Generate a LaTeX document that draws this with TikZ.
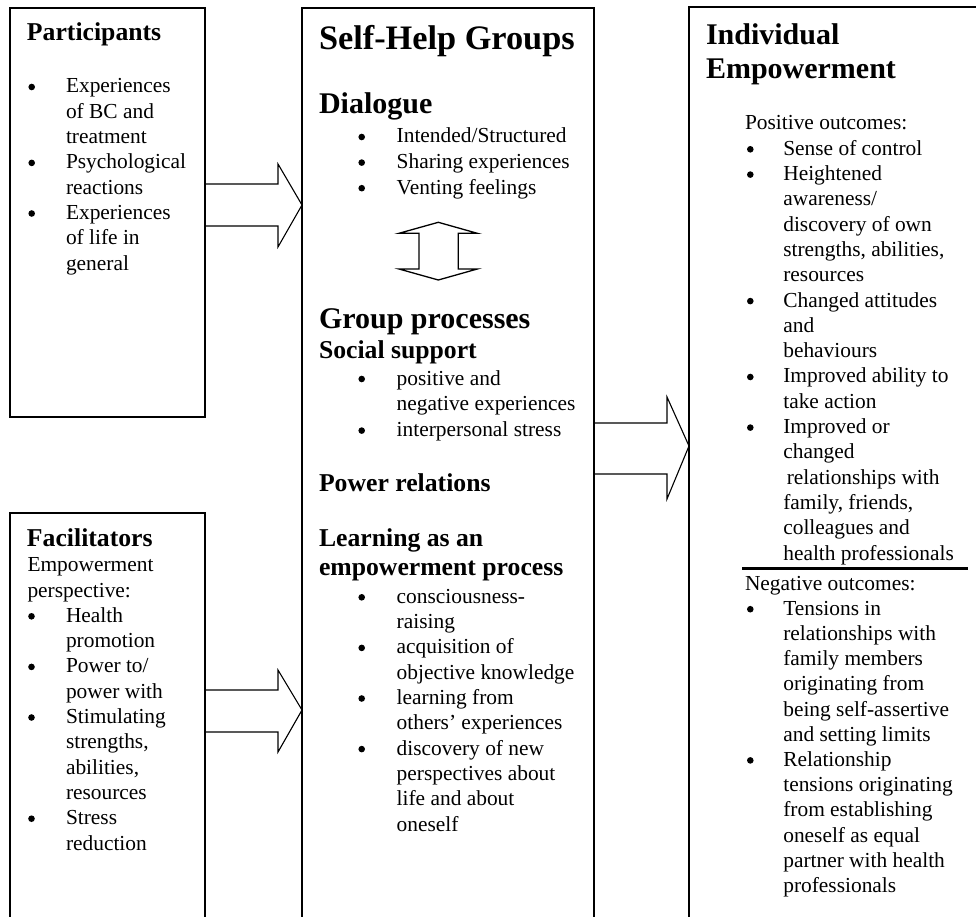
\documentclass[tikz,border=0pt]{standalone}
\usepackage{fontspec}
\setmainfont{Liberation Serif}
\newlength\bind
\newcommand\nl{\hfil\break}
\newcommand\bdot{\tikz[baseline=0pt]{\useasboundingbox (0pt,0pt) rectangle (8pt,1pt);\fill (4pt,6pt) circle[radius=3.3pt];}}
\newcommand\bi[1]{\hangindent=\bind\hangafter=1\noindent\makebox[\bind][l]{\bdot}#1\par}
\newcommand\sps{\spaceskip=0.25em plus 0.1em\relax}
\newcommand\bodyf[1][25.3]{\fontsize{21.4}{#1}\selectfont\sps}
\newcommand\hds{\fontsize{25.7}{28.3}\selectfont\bfseries\sps}
\newcommand\hdm{\fontsize{30}{33.3}\selectfont\bfseries\sps}
\newcommand\hdl{\fontsize{34.3}{40}\selectfont\bfseries\sps}
\begin{document}
\begin{tikzpicture}[x=1pt,y=-1pt,
  boxline/.style={line width=1.4pt, line cap=rect},
  blockarrow/.style={line width=1.1pt, line join=miter},
  divline/.style={line width=2.6pt},
  txt/.style={anchor=base west, inner sep=0pt, outer sep=0pt, text width=400pt}]
\useasboundingbox (0,0) rectangle (976,917);

% ---------- boxes ----------
\coordinate (pTL) at (10,8);   \coordinate (pBR) at (205,417);
\draw[boxline] (pTL) rectangle (pBR);
\draw[boxline] (10,917) -- (10,513) -- (205,513) -- (205,917);
\draw[boxline] (302,917) -- (302,8) -- (594,8) -- (594,917);
\draw[boxline] (689,917) -- (689,7) -- (976,7);

% ---------- block arrows ----------
\coordinate (a1tip) at (302,205);
\draw[blockarrow] (205,184) -- (278,184) -- (278,164) -- (a1tip) -- (278,247) -- (278,226) -- (205,226);
\coordinate (a2tip) at (302,710);
\draw[blockarrow] (205,690) -- (278,690) -- (278,670) -- (a2tip) -- (278,752) -- (278,732) -- (205,732);
\coordinate (a3tip) at (689,446);
\draw[blockarrow] (594,423) -- (667,423) -- (667,397) -- (a3tip) -- (667,499) -- (667,474) -- (594,474);
% double arrow
\coordinate (dtop) at (438.3,222.3);
\coordinate (dbot) at (438.3,280);
\draw[line width=1.3pt, line join=miter] (dtop) -- (477.3,233.3) -- (458.3,233.3) -- (458.3,269) -- (477.3,269)
  -- (dbot) -- (399,269) -- (419,269) -- (419,233.3) -- (399,233.3) -- cycle;

% ---------- Participants ----------
\node[txt] (phead) at (27,41) {\hds Participants\par};
\node[txt] (plist) at (27.7,93) {\bodyf\setlength\bind{38.3pt}%
  \bi{Experiences\nl of BC and\nl treatment}%
  \bi{Psychological\nl reactions}%
  \bi{Experiences\nl of life in\nl general}};

% ---------- Facilitators ----------
\node[txt] (fhead) at (27,546.7) {\hds Facilitators\par};
\node[txt] (flist) at (27.5,571.7) {\bodyf\setlength\bind{38.5pt}%
  \noindent Empowerment\nl perspective:\par
  \bi{Health\nl promotion}%
  \bi{Power to/\nl power with}%
  \bi{Stimulating\nl strengths,\nl abilities,\nl resources}%
  \bi{Stress\nl reduction}};

% ---------- Self-Help Groups ----------
\node[txt] (shg) at (319,49.3) {\hdl Self-Help Groups\par};
\node[txt] (dial) at (319,113.3) {\hdm Dialogue\par};
\node[txt] (diallist) at (357.7,143) {\bodyf[25.6]\setlength\bind{39pt}%
  \bi{Intended/Structured}%
  \bi{Sharing experiences}%
  \bi{Venting feelings}};
\node[txt] (gp) at (319,328.3) {\hdm Group processes\par};
\node[txt] (ss) at (319,358.3) {\hds Social support\par};
\node[txt] (sslist) at (357.7,385) {\bodyf[25.8]\setlength\bind{39pt}%
  \bi{positive and\nl negative experiences}%
  \bi{interpersonal stress}};
\node[txt] (pr) at (319,491.7) {\hds Power relations\par};
\node[txt] (lea) at (319,546.7) {\hds Learning as an\nl empowerment process\par};
\node[txt] (lealist) at (357.7,603.3) {\bodyf\setlength\bind{39pt}%
  \bi{consciousness-\nl raising}%
  \bi{acquisition of\nl objective knowledge}%
  \bi{learning from\nl others’ experiences}%
  \bi{discovery of new\nl perspectives about\nl life and about\nl oneself}};

% ---------- Individual Empowerment ----------
\node[txt] (ie) at (706,45) {\hdm Individual\nl Empowerment\par};
\node[txt] (poslist) at (746.3,130) {\bodyf\setlength\bind{37pt}%
  \noindent\hspace*{-1.3pt}Positive outcomes:\par
  \bi{Sense of control}%
  \bi{Heightened\nl awareness/\nl discovery of own\nl strengths, abilities,\nl resources}%
  \bi{Changed attitudes\nl and\nl behaviours}%
  \bi{Improved ability to\nl take action}%
  \bi{Improved or\nl changed\nl \hspace*{3.5pt}relationships with\nl family, friends,\nl colleagues and\nl health professionals}};
\coordinate (divL) at (742,568.3);
\coordinate (divR) at (968,568.3);
\draw[divline] (divL) -- (divR);
\node[txt] (neglist) at (746.3,590) {\bodyf[25.2]\setlength\bind{37pt}%
  \noindent\hspace*{-1.3pt}Negative outcomes:\par
  \bi{Tensions in\nl relationships with\nl family members\nl originating from\nl being self-assertive\nl and setting limits}%
  \bi{Relationship\nl tensions originating\nl from establishing\nl oneself as equal\nl partner with health\nl professionals}};
\end{tikzpicture}
\end{document}
